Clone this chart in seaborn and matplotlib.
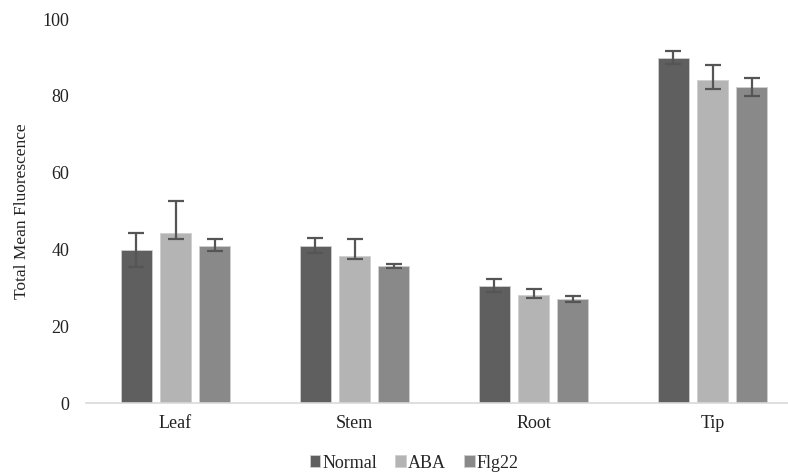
import seaborn as sns
import matplotlib.pyplot as plt
import pandas as pd

# データ
tissues = ['Leaf', 'Stem', 'Root', 'Tip']
treatments = ['Normal', 'ABA', 'Flg22']
normal = [39.8, 40.8, 30.4, 89.8]
aba = [44.2, 38.2, 28.1, 84.1]
flg22 = [41.0, 35.6, 27.1, 82.3]
# 誤差（下側・上側）
normal_lo = [4.3, 1.7, 1.6, 1.6]
normal_hi = [4.5, 2.2, 1.8, 1.8]
aba_lo = [1.5, 0.6, 0.8, 2.3]
aba_hi = [8.5, 4.5, 1.6, 3.9]
flg22_lo = [1.4, 0.5, 0.8, 2.3]
flg22_hi = [1.7, 0.5, 0.8, 2.3]

colors = ['#5f5f5f', '#b4b4b4', '#898989']

df = pd.DataFrame({
    'tissue': tissues * 3,
    'treatment': [t for t in treatments for _ in tissues],
    'value': normal + aba + flg22,
})
lows = [normal_lo, aba_lo, flg22_lo]
highs = [normal_hi, aba_hi, flg22_hi]

sns.set_theme(style="white")
plt.rcParams['font.family'] = ['Liberation Serif', 'DejaVu Serif']

fig = plt.figure(figsize=(7.88, 4.74), dpi=100)
ax = fig.add_axes([86 / 788, 71 / 474, 1 - 86 / 788, 384 / 474])

sns.barplot(data=df, x='tissue', y='value', hue='treatment',
            order=tissues, hue_order=treatments, palette=colors,
            width=0.66, gap=0.21, errorbar=None, ax=ax,
            edgecolor='#cfcfcf', linewidth=0.6, saturation=1)

# 誤差棒
for cont, lo, hi in zip(ax.containers, lows, highs):
    xs = [p.get_x() + p.get_width() / 2 for p in cont.patches]
    ys = [p.get_height() for p in cont.patches]
    ax.errorbar(xs, ys, yerr=[lo, hi], fmt='none', ecolor='#555555',
                elinewidth=1.6, capsize=6, capthick=1.6)

ax.set_ylim(0, 100)
ax.set_xlim(-0.5, -0.5 + (788 - 86) / 179)
ax.set_yticks([0, 20, 40, 60, 80, 100])
ax.tick_params(axis='both', length=0, labelsize=13, colors='#222222')
ax.tick_params(axis='y', pad=12)
ax.tick_params(axis='x', pad=9)
ax.set_xlabel('')
ax.set_ylabel('Total Mean Fluorescence', fontsize=12.5, color='#222222', labelpad=9)
for s in ['top', 'right', 'left']:
    ax.spines[s].set_visible(False)
ax.spines['bottom'].set_color('#d9d9d9')
ax.spines['bottom'].set_linewidth(1.2)

handles, labels = ax.get_legend_handles_labels()
ax.get_legend().remove()
fig.legend(handles, labels, loc='center', bbox_to_anchor=(414 / 788, 11 / 474),
           ncol=3, frameon=False, fontsize=13, handlelength=0.6,
           handleheight=0.6, handletextpad=0.1, columnspacing=1.0)

plt.savefig('out.png', dpi=100)
